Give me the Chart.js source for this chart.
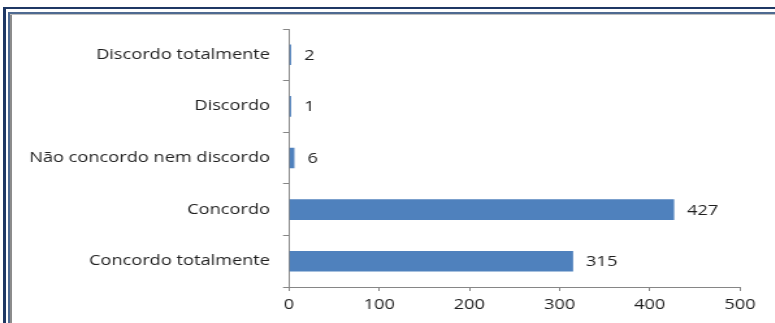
<!DOCTYPE html>
<html>
<head>
<meta charset="utf-8">
<script src="https://cdn.jsdelivr.net/npm/chart.js@4"></script>
<style>
  html, body { margin: 0; padding: 0; background: #fff; width: 775px; height: 323px; overflow: hidden; }
  /* the chart is laid out narrow and widened, giving the broad lettering */
  #wrap { position: absolute; left: 0; top: 0; width: 596px; height: 323px; transform: scaleX(1.3); transform-origin: 0 0; }
  .f { position: absolute; }
</style>
</head>
<body>
<div id="wrap"><canvas id="c"></canvas></div>
<!-- double frame, top and left edges -->
<div class="f" style="left:3px;top:7px;width:3px;height:316px;background:#1f3864"></div>
<div class="f" style="left:3px;top:7px;width:772px;height:2px;background:#1f3864"></div>
<div class="f" style="left:8px;top:12px;width:2px;height:311px;background:#4f6a91"></div>
<div class="f" style="left:10px;top:14px;width:2px;height:309px;background:#8c8c8c"></div>
<div class="f" style="left:8px;top:12px;width:767px;height:2px;background:#4f6a91"></div>
<div class="f" style="left:10px;top:14px;width:765px;height:1px;background:#bfbfbf"></div>
<script>
const STRETCH = 1.3;

const categories = [
  'Discordo totalmente',
  'Discordo',
  'Não concordo nem discordo',
  'Concordo',
  'Concordo totalmente'
];
const respostas = [2, 1, 6, 427, 315];
const xTicks = [0, 100, 200, 300, 400, 500];

const FONT = { family: '"Open Sans", sans-serif', size: 14 };
const TEXT = '#1e1e1e';
const AXIS = '#868686';

// numbers printed just past the end of each bar
const valueLabels = {
  id: 'valueLabels',
  afterDatasetsDraw(chart) {
    const { ctx } = chart;
    const meta = chart.getDatasetMeta(0);
    ctx.save();
    ctx.font = `${FONT.size}px ${FONT.family}`;
    ctx.fillStyle = TEXT;
    ctx.textAlign = 'left';
    ctx.textBaseline = 'middle';
    meta.data.forEach((bar, i) => {
      ctx.fillText(String(respostas[i]), bar.x + 10, bar.y + 1);
    });
    ctx.restore();
  }
};

new Chart(document.getElementById('c'), {
  type: 'bar',
  data: {
    labels: categories,
    datasets: [{
      data: respostas,
      backgroundColor: '#4f81bd',
      borderWidth: 0,
      minBarLength: 1.6,
      barPercentage: 0.4,
      categoryPercentage: 1
    }]
  },
  options: {
    indexAxis: 'y',
    responsive: true,
    maintainAspectRatio: false,
    animation: false,
    devicePixelRatio: 1,
    layout: { padding: { left: 0, right: 596 - 740 / STRETCH, top: 29, bottom: 0 } },
    plugins: { legend: { display: false }, tooltip: { enabled: false } },
    scales: {
      x: {
        min: xTicks[0],
        max: xTicks[xTicks.length - 1],
        afterBuildTicks(scale) { scale.ticks = xTicks.map(v => ({ value: v })); },
        afterFit(scale) { scale.height = 36; },
        ticks: { font: FONT, color: TEXT, padding: 6 },
        grid: { drawOnChartArea: false, drawTicks: true, tickLength: 4, color: AXIS },
        border: { color: AXIS, width: 1 }
      },
      y: {
        afterFit(scale) { scale.width = 289 / STRETCH; },
        ticks: { font: FONT, color: TEXT, padding: 10 },
        grid: { drawOnChartArea: false, drawTicks: true, tickLength: 4.6, offset: true, color: AXIS },
        border: { color: AXIS, width: 1 }
      }
    }
  },
  plugins: [valueLabels]
});
</script>
</body>
</html>
